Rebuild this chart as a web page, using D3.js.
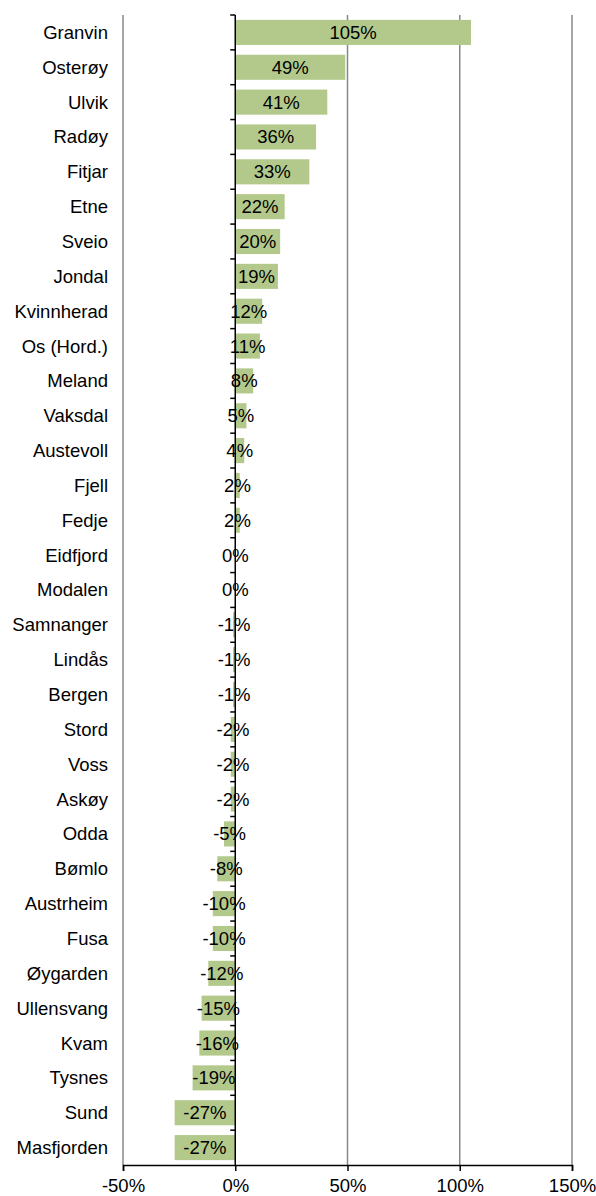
<!DOCTYPE html>
<html>
<head>
<meta charset="utf-8">
<script src="https://cdn.jsdelivr.net/npm/d3@7"></script>
<style>
  body { margin: 0; background: #fff; }
  text { font-family: "Liberation Sans", Arial, sans-serif; fill: #000; }
</style>
</head>
<body>
<div id="chart"></div>
<script>
const kommuner = ["Granvin","Osterøy","Ulvik","Radøy","Fitjar","Etne","Sveio","Jondal","Kvinnherad","Os (Hord.)","Meland","Vaksdal","Austevoll","Fjell","Fedje","Eidfjord","Modalen","Samnanger","Lindås","Bergen","Stord","Voss","Askøy","Odda","Bømlo","Austrheim","Fusa","Øygarden","Ullensvang","Kvam","Tysnes","Sund","Masfjorden"]
const endring = [105,49,41,36,33,22,20,19,12,11,8,5,4,2,2,0,0,-1,-1,-1,-2,-2,-2,-5,-8,-10,-10,-12,-15,-16,-19,-27,-27]
const xTicks = [-50,0,50,100,150]

const width = 596, height = 1196
const margin = {top: 15, right: 24, bottom: 31, left: 123}
const fontSize = "18.5px"

const svg = d3.select("#chart").append("svg")
  .attr("width", width).attr("height", height)

const x = d3.scaleLinear().domain([-50, 150]).range([margin.left, width - margin.right])
const y = d3.scaleBand().domain(kommuner).range([margin.top, height - margin.bottom]).paddingInner(0.28).paddingOuter(0.14)

// gridlines
svg.append("g").selectAll("line")
  .data(xTicks.filter(d => d != 0))
  .enter().append("line")
  .attr("x1", d => x(d)).attr("x2", d => x(d))
  .attr("y1", margin.top).attr("y2", height - margin.bottom)
  .attr("stroke", "#888").attr("stroke-width", 1.5)

// bars
svg.append("g").selectAll("rect")
  .data(kommuner)
  .enter().append("rect")
  .attr("x", (d, i) => Math.min(x(0), x(endring[i])))
  .attr("y", d => y(d))
  .attr("width", (d, i) => Math.abs(x(endring[i]) - x(0)))
  .attr("height", y.bandwidth())
  .attr("fill", "#b3c98b")

// x axis
const xAxis = svg.append("g")
  .attr("transform", `translate(0,${height - margin.bottom})`)
  .call(d3.axisBottom(x).tickValues(xTicks).tickSize(6).tickFormat(d => d + "%"))
xAxis.select(".domain").attr("stroke", "#000").attr("stroke-width", 1.5)
xAxis.selectAll(".tick line").attr("stroke", "#000").attr("stroke-width", 1.5)
xAxis.selectAll("text").style("font-size", fontSize).attr("dy", "1.05em").attr("y", 8)

// zero axis with category ticks
const step = y.step()
svg.append("line")
  .attr("x1", x(0)).attr("x2", x(0))
  .attr("y1", margin.top).attr("y2", height - margin.bottom)
  .attr("stroke", "#000").attr("stroke-width", 1.5)
svg.append("g").selectAll("line")
  .data(d3.range(kommuner.length))
  .enter().append("line")
  .attr("x1", x(0) - 5).attr("x2", x(0))
  .attr("y1", i => margin.top + i * step).attr("y2", i => margin.top + i * step)
  .attr("stroke", "#000").attr("stroke-width", 1.5)

// category labels
svg.append("g").selectAll("text")
  .data(kommuner)
  .enter().append("text")
  .attr("x", 108)
  .attr("y", d => y(d) + y.bandwidth() / 2)
  .attr("dy", "0.35em")
  .attr("text-anchor", "end")
  .style("font-size", fontSize)
  .text(d => d)

// value labels
svg.append("g").selectAll("text")
  .data(kommuner)
  .enter().append("text")
  .attr("x", (d, i) => (x(0) + x(endring[i])) / 2)
  .attr("y", d => y(d) + y.bandwidth() / 2)
  .attr("dy", "0.35em")
  .attr("text-anchor", "middle")
  .style("font-size", fontSize)
  .text((d, i) => endring[i] + "%")
</script>
</body>
</html>
